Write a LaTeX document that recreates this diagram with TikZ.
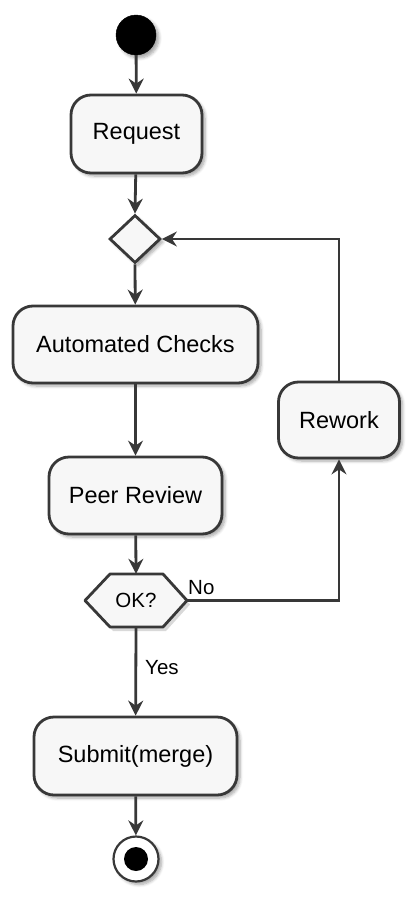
\documentclass[tikz,border=0pt]{standalone}
\usepackage{fontspec}
\setmainfont{Liberation Sans}
\usetikzlibrary{arrows.meta,shapes.geometric,shadows.blur}
\definecolor{ln}{HTML}{383838}
\definecolor{bg}{HTML}{F7F7F7}
\tikzset{
  shd/.style={blur shadow={shadow xshift=3pt,shadow yshift=-3pt,shadow blur steps=6,shadow blur radius=3pt,shadow opacity=35}},
  act/.style={draw=ln,fill=bg,line width=2.8pt,rounded corners=20pt,inner sep=0pt,font=\fontsize{23.5}{28}\selectfont,shd},
  flow/.style={draw=ln,line width=2.8pt,-{Stealth[length=15pt,width=15pt,inset=5pt]}},
  lbl/.style={font=\fontsize{20.5}{24}\selectfont,inner sep=0pt}
}
\begin{document}
\begin{tikzpicture}[x=1pt,y=-1pt]
\useasboundingbox (0,0) rectangle (416,902);
\node[circle,fill=black,draw=black,minimum size=40pt,inner sep=0pt,shd] (start) at (136,35) {};
\node[act,minimum width=131pt,minimum height=78pt] (req) at (136.5,134) {Request};
\node[diamond,draw=ln,fill=bg,line width=2.8pt,minimum width=51pt,minimum height=48pt,inner sep=0pt,shd] (dia) at (135,239) {};
\node[act,minimum width=245pt,minimum height=77pt] (auto) at (135.5,344.5) {Automated Checks};
\node[act,minimum width=173pt,minimum height=77pt] (peer) at (135.5,495.5) {Peer Review};
\node[act,minimum width=121pt,minimum height=76pt] (rework) at (339,420) {Rework};
\coordinate (okc) at (136,600.5);
\path[fill=black,opacity=0.15] ([shift={(-48pt,-4pt)}]okc) -- ([shift={(-23pt,-30.5pt)}]okc) -- ([shift={(30pt,-30.5pt)}]okc) -- ([shift={(54pt,-4pt)}]okc) -- ([shift={(30pt,22.5pt)}]okc) -- ([shift={(-23pt,22.5pt)}]okc) -- cycle;
\draw[draw=ln,fill=bg,line width=2.8pt,line join=round] ([shift={(-51pt,0pt)}]okc) -- ([shift={(-26pt,-26.5pt)}]okc) -- ([shift={(27pt,-26.5pt)}]okc) -- ([shift={(51pt,0pt)}]okc) -- ([shift={(27pt,26.5pt)}]okc) -- ([shift={(-26pt,26.5pt)}]okc) -- cycle;
\node[lbl,minimum width=102pt,minimum height=53pt] (ok) at (okc) {OK?};
\node[act,minimum width=203pt,minimum height=78pt] (submit) at (135.5,756) {Submit(merge)};
\node[circle,draw=ln,fill=white,line width=2.2pt,minimum size=45pt,inner sep=0pt,shd] (end) at (136,859) {};
\node[circle,fill=black,minimum size=24pt,inner sep=0pt] (endin) at (end.center) {};
\node[lbl,anchor=base west] (no) at (188,594) {No};
\node[lbl,anchor=base west] (yes) at (145,674) {Yes};
\draw[flow] (start) -- (req);
\draw[flow] (req) -- (dia.north);
\draw[flow] (dia.south) -- (auto);
\draw[flow] (auto) -- (peer);
\draw[flow] (peer) -- (ok.north);
\draw[flow] (ok.south) -- (submit);
\draw[flow] (submit) -- (end);
\draw[flow] (ok.east) -| (rework.south);
\draw[flow] (rework.north) |- (dia.east);
\end{tikzpicture}
\end{document}
